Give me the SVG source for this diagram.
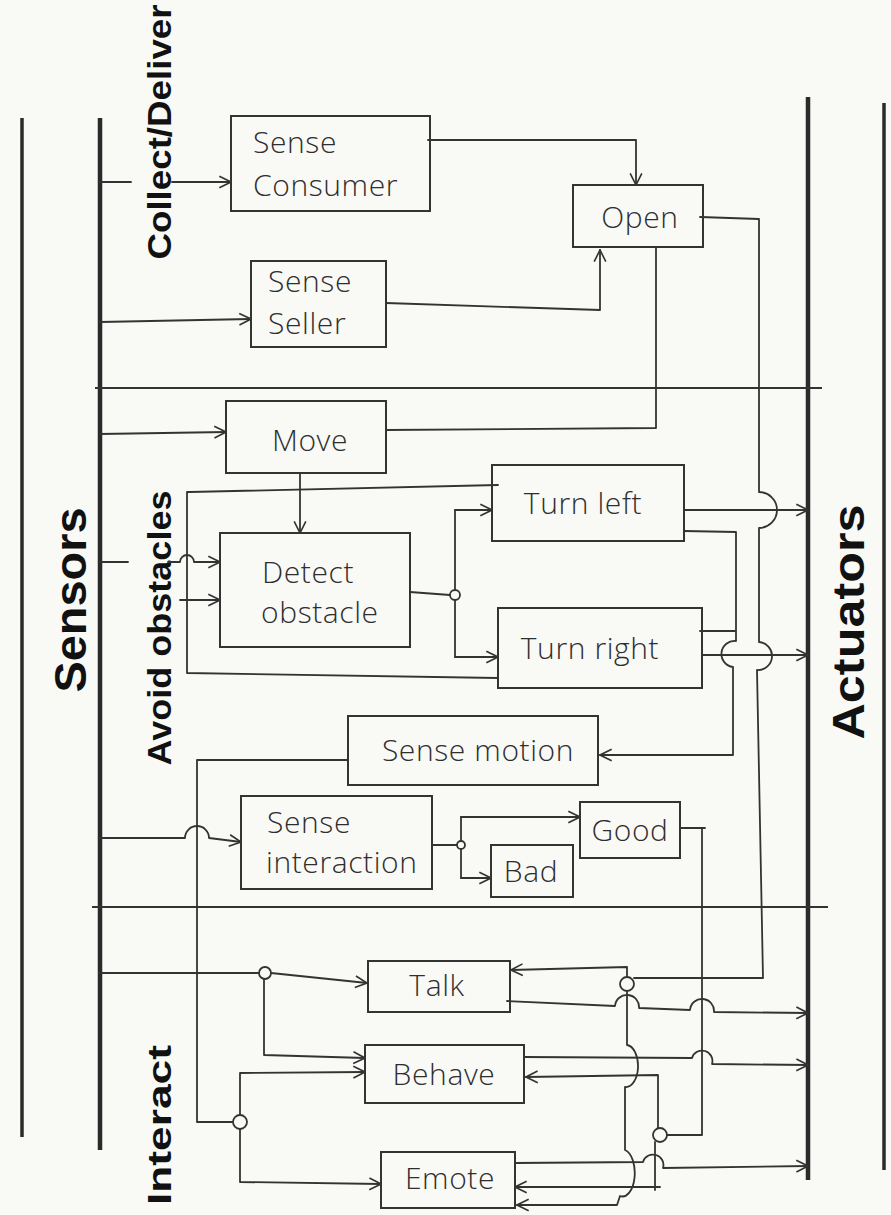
<svg xmlns="http://www.w3.org/2000/svg" width="891" height="1215" viewBox="0 0 891 1215">
<style>
.bg{fill:#f9f9f6}
.box{fill:none;stroke:#333;stroke-width:2}
.ln{fill:none;stroke:#333;stroke-width:1.8;stroke-linejoin:round;stroke-linecap:round}
.ar{marker-end:url(#arr)}
.bar{stroke:#2a2a2a;stroke-width:4.5;fill:none}
.bar2{stroke:#2a2a2a;stroke-width:3.5;fill:none}
.sep{stroke:#333;stroke-width:2;fill:none}
.lbl{font-family:'Open Sans','Liberation Sans',sans-serif;font-weight:300;font-size:30px;letter-spacing:0.6px;fill:#2e2e2e}
.big{font-family:'Liberation Sans',Arial,sans-serif;font-weight:bold;fill:#111}
.dot{fill:#f9f9f6;stroke:#333;stroke-width:1.8}
</style>
<defs>
<marker id="arr" viewBox="0 0 12 12" refX="11" refY="6" markerWidth="14" markerHeight="14" markerUnits="userSpaceOnUse" orient="auto">
<path d="M1,1 L11,6 L1,11" fill="none" stroke="#333" stroke-width="1.4"/>
</marker>
</defs>
<rect class="bg" x="0" y="0" width="891" height="1215"/>

<g id="frame">
<path class="bar2" d="M22,118 V1137"/>
<path class="bar" d="M100,118 V1150"/>
<path class="bar" d="M808,97 V1180"/>
<path class="bar2" d="M884,103 V1170"/>
<path class="sep" d="M95,388 H822"/>
<path class="sep" d="M92,907 H828"/>
</g>

<g id="labels">
<text class="big" font-size="44" text-anchor="middle" textLength="185" lengthAdjust="spacingAndGlyphs" transform="translate(86,600) rotate(-90)">Sensors</text>
<text class="big" font-size="33" text-anchor="middle" textLength="255" lengthAdjust="spacingAndGlyphs" transform="translate(171,132) rotate(-90)">Collect/Deliver</text>
<text class="big" font-size="33" text-anchor="middle" textLength="275" lengthAdjust="spacingAndGlyphs" transform="translate(171,628) rotate(-90)">Avoid obstacles</text>
<text class="big" font-size="33" text-anchor="middle" textLength="160" lengthAdjust="spacingAndGlyphs" transform="translate(171,1125) rotate(-90)">Interact</text>
<text class="big" font-size="44" text-anchor="middle" textLength="235" lengthAdjust="spacingAndGlyphs" transform="translate(864,622) rotate(-90)">Actuators</text>
</g>

<g id="connectors">
<path class="ln" d="M100,182 H131"/>
<path class="ln ar" d="M172,182 H231"/>
<path class="ln ar" d="M428,140 H636 V185"/>
<path class="ln ar" d="M386,303 L600,310 V250"/>
<path class="ln ar" d="M100,322 L251,319"/>
<path class="ln" d="M700,217 L759,219 V492 A18,18 0 0,1 759,528 V642 A14,14 0 0,1 757,670 L763,978 H634"/>
<path class="ln ar" d="M684,510 H808"/>
<path class="ln ar" d="M684,531 L736,532 V641 A13,13 0 0,0 733,667 V755 H600"/>
<path class="ln" d="M700,631 H735"/>
<path class="ln ar" d="M702,655 H808"/>
<path class="ln ar" d="M100,434 L226,432"/>
<path class="ln" d="M386,430 L656,428 V248"/>
<path class="ln ar" d="M300,473 V533"/>
<path class="ln" d="M100,562 H128"/>
<path class="ln ar" d="M168,562 H180 A7,7 0 0,1 194,562 H220"/>
<path class="ln" d="M498,485 L190,492 H187 V673 L498,678"/>
<path class="ln ar" d="M180,600 H220"/>
<path class="ln" d="M410,592 L450,595"/>
<path class="ln" d="M455,590 V510"/>
<path class="ln" d="M455,600 V657"/>
<path class="ln ar" d="M455,510 H492"/>
<path class="ln ar" d="M455,657 H498"/>
<path class="ln" d="M348,760 H197 V1122 H233"/>
<path class="ln ar" d="M100,838 H185 A12,12 0 0,1 209,838 L241,842"/>
<path class="ln" d="M432,845 H457"/>
<path class="ln" d="M461,841 V817"/>
<path class="ln" d="M461,849 V878"/>
<path class="ln ar" d="M461,817 H580"/>
<path class="ln ar" d="M461,878 H491"/>
<path class="ln" d="M680,828 H705"/>
<path class="ln" d="M702,828 V1135 H667"/>
<path class="ln" d="M100,973 H259"/>
<path class="ln ar" d="M271,973 L367,983"/>
<path class="ln ar" d="M264,979 V1055 L365,1058"/>
<path class="ln ar" d="M240,1115 V1073 L365,1072"/>
<path class="ln ar" d="M240,1129 V1182 L381,1184"/>
<path class="ln ar" d="M627,977 V967 L511,970"/>
<path class="ln ar" d="M507,1001 L615,1006 A12,12 0 0,1 639,1008 L690,1010 A12,12 0 0,1 714,1012 L808,1013"/>
<path class="ln ar" d="M627,991 V1045 A12,21 0 0,1 625,1087 V1150 A12,23 0 0,1 620,1196 L617,1205 H517"/>
<path class="ln ar" d="M524,1057 L692,1058 A10,10 0 0,1 712,1064 L808,1065"/>
<path class="ln ar" d="M658,1128 V1075 L526,1077"/>
<path class="ln" d="M655,1142 V1190"/>
<path class="ln ar" d="M660,1187 L515,1187"/>
<path class="ln ar" d="M515,1163 L643,1162 A10,10 0 0,1 663,1168 L808,1166"/>
<circle class="dot" cx="455" cy="595" r="5"/>
<circle class="dot" cx="461" cy="845" r="4"/>
<circle class="dot" cx="265" cy="973" r="6"/>
<circle class="dot" cx="240" cy="1122" r="7"/>
<circle class="dot" cx="627" cy="984" r="7"/>
<circle class="dot" cx="660" cy="1135" r="7"/>
</g>

<g id="sense-consumer"><rect class="box" x="231" y="116" width="199" height="95"/><text class="lbl" x="253" y="153">Sense</text><text class="lbl" x="253" y="196">Consumer</text></g>
<g id="open"><rect class="box" x="573" y="185" width="130" height="62"/><text class="lbl" x="640" y="228" text-anchor="middle">Open</text></g>
<g id="sense-seller"><rect class="box" x="251" y="261" width="135" height="86"/><text class="lbl" x="268" y="292">Sense</text><text class="lbl" x="268" y="334">Seller</text></g>
<g id="move"><rect class="box" x="226" y="401" width="160" height="72"/><text class="lbl" x="310" y="451" text-anchor="middle">Move</text></g>
<g id="detect-obstacle"><rect class="box" x="220" y="533" width="190" height="114"/><text class="lbl" x="262" y="583">Detect</text><text class="lbl" x="261" y="623">obstacle</text></g>
<g id="turn-left"><rect class="box" x="492" y="465" width="192" height="76"/><text class="lbl" x="583" y="514" text-anchor="middle">Turn left</text></g>
<g id="turn-right"><rect class="box" x="498" y="608" width="204" height="80"/><text class="lbl" x="590" y="659" text-anchor="middle">Turn right</text></g>
<g id="sense-motion"><rect class="box" x="348" y="716" width="250" height="69"/><text class="lbl" x="478" y="761" text-anchor="middle">Sense motion</text></g>
<g id="sense-interaction"><rect class="box" x="241" y="796" width="191" height="93"/><text class="lbl" x="267" y="833">Sense</text><text class="lbl" x="266" y="873">interaction</text></g>
<g id="good"><rect class="box" x="580" y="802" width="100" height="56"/><text class="lbl" x="630" y="841" text-anchor="middle">Good</text></g>
<g id="bad"><rect class="box" x="491" y="845" width="82" height="52"/><text class="lbl" x="531" y="882" text-anchor="middle">Bad</text></g>
<g id="talk"><rect class="box" x="368" y="961" width="142" height="51"/><text class="lbl" x="437" y="996" text-anchor="middle">Talk</text></g>
<g id="behave"><rect class="box" x="365" y="1045" width="159" height="58"/><text class="lbl" x="444" y="1085" text-anchor="middle">Behave</text></g>
<g id="emote"><rect class="box" x="381" y="1152" width="134" height="56"/><text class="lbl" x="450" y="1189" text-anchor="middle">Emote</text></g>
</svg>
